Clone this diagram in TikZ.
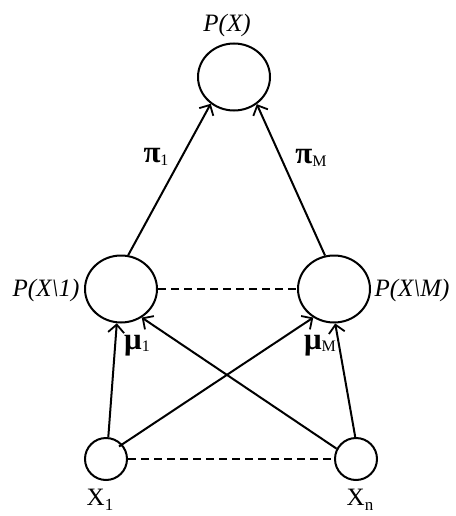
\documentclass[tikz,border=0pt]{standalone}
\usepackage{fontspec}
\setmainfont{Liberation Serif}
\usetikzlibrary{shapes.geometric,arrows.meta}
\newcommand{\gk}[1]{{\bfseries #1}}
\begin{document}
\begin{tikzpicture}[x=1pt,y=-1pt,
  big/.style={draw,ellipse,line width=2pt,minimum width=72pt,minimum height=67pt,inner sep=0pt},
  small/.style={draw,circle,line width=2pt,minimum size=42pt,inner sep=0pt},
  lbl/.style={inner sep=0pt,font=\fontsize{25}{30}\selectfont},
  glbl/.style={inner sep=0pt,font=\fontsize{31}{36}\selectfont},
  arr/.style={line width=2pt,-{Straight Barb[length=8pt,width=16pt,line width=1.8pt]}},
  dsh/.style={line width=2pt,dash pattern=on 8pt off 5pt}]
\useasboundingbox (0,0) rectangle (455,516);
\node[big] (t) at (234,77) {};
\node[big] (l) at (121,289) {};
\node[big] (r) at (334,289) {};
\node[small] (x1) at (106,459) {};
\node[small] (xn) at (356,459) {};
\node[lbl] (tl) at (227,25) {\itshape P(X)};
\node[lbl] (ll) at (46,290) {\itshape P(X\textbackslash 1)};
\node[lbl] (rl) at (412,290) {\itshape P(X\textbackslash M)};
\node[glbl] (p1) at (156,157) {\gk{π}\raisebox{-0.25ex}{\fontsize{16}{18}\selectfont 1}};
\node[glbl] (pm) at (311,158) {\gk{π}\raisebox{-0.25ex}{\fontsize{16}{18}\selectfont M}};
\node[glbl] (m1) at (137,346) {\gk{μ}\raisebox{-0.1ex}{\fontsize{16}{18}\selectfont 1}};
\node[glbl] (mm) at (320,346) {\gk{μ}\raisebox{-0.1ex}{\fontsize{16}{18}\selectfont M}};
\node[lbl] (x1l) at (100,500) {X\raisebox{-0.4ex}{\fontsize{17}{18}\selectfont 1}};
\node[lbl] (xnl) at (360,500) {X\raisebox{-0.4ex}{\fontsize{17}{18}\selectfont n}};
\draw[arr] (l.78) -- (t.229);
\draw[arr] (r.105) -- (t.310);
\draw[arr] (x1.84) -- (l.263);
\draw[arr,shorten <=-4pt] (x1.42) -- (r.234);
\draw[arr] (xn.152) -- (l.306);
\draw[arr] (xn.92) -- (r.272);
\draw[dsh] (l.east) -- (r.west);
\draw[dsh] (x1.east) -- (xn.west);
\end{tikzpicture}
\end{document}
